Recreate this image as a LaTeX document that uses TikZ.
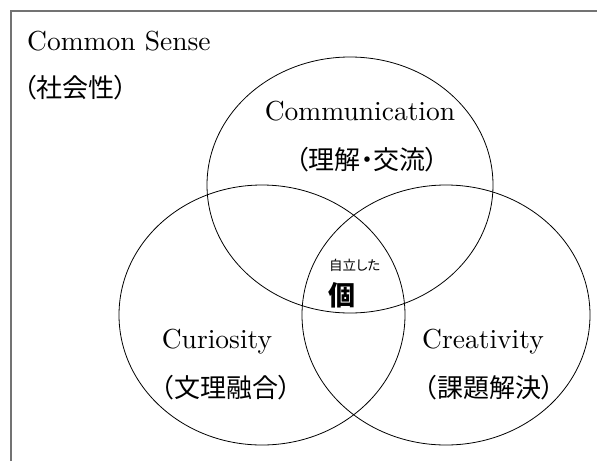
\documentclass[tikz,border=0pt]{standalone}
\usepackage{fontspec}
\setmainfont{lmroman10-regular.otf}
\newfontfamily\cjk{Noto Sans CJK JP}[RawFeature=+palt]
\begin{document}
\begin{tikzpicture}[x=1pt,y=-1pt,
  lat/.style={inner sep=0pt, anchor=base, font=\fontsize{27.5}{32}\selectfont},
  jp/.style={inner sep=0pt, font=\cjk\fontsize{26}{30}\selectfont},
  ring/.style={draw=black, line width=0.8pt},
  frameline/.style={draw=black!55, line width=1.3pt}]
\useasboundingbox (0,0) rectangle (597,461);
\coordinate (fbl) at (11,461);
\coordinate (ftl) at (11,11);
\coordinate (ftr) at (597,11);
\draw[frameline] (fbl) -- (ftl) -- (ftr);
\draw[ring] (350,185) ellipse [x radius=143, y radius=128];
\draw[ring] (262,315) ellipse [x radius=143, y radius=130];
\draw[ring] (446,315) ellipse [x radius=144, y radius=130];
\node[lat, anchor=base west] (cs) at (27,50) {Common Sense};
\node[jp, anchor=west] (csj) at (23,88) {（社会性）};
\node[lat] (com) at (360,120) {Communication};
\node[jp] (comj) at (367,160) {（理解・交流）};
\node[lat] (cur) at (217,348) {Curiosity};
\node[jp] (curj) at (226,388) {（文理融合）};
\node[lat] (cre) at (483,348) {Creativity};
\node[jp] (crej) at (489,388) {（課題解決）};
\node[jp, font=\cjk\fontsize{13.5}{15}\selectfont, anchor=west] (jiri) at (329,265) {自立した};
\node[jp, font=\cjk\bfseries\fontsize{27}{30}\selectfont, anchor=west] (ko) at (328,295) {個};
\end{tikzpicture}
\end{document}
